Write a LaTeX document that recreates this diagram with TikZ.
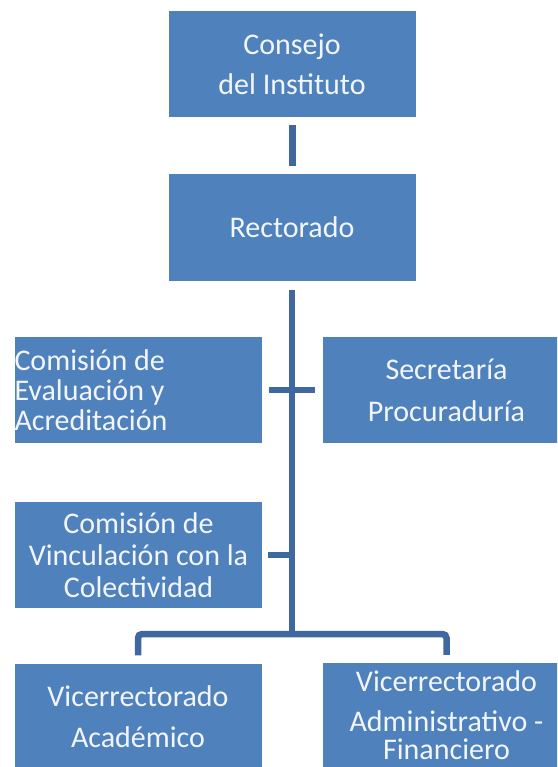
\documentclass[tikz,border=0pt]{standalone}
\usepackage{fontspec}
\setmainfont{Carlito}
\usepackage{tikz}
\usetikzlibrary{positioning}
\definecolor{boxc}{RGB}{79,129,189}
\definecolor{linec}{RGB}{64,104,160}
\definecolor{textc}{RGB}{242,246,251}

\begin{document}
\begin{tikzpicture}[x=1pt, y=-1pt,
  orgbox/.style={fill=boxc, text=textc, minimum width=247pt, minimum height=106pt,
    inner sep=0pt, align=center, font={\fontsize{30}{30}\selectfont}},
  link/.style={draw=linec, line width=6.5pt}]
  \useasboundingbox (0,0) rectangle (557,767);
  \clip (0,0) rectangle (557,767);
  % top levels
  \node[orgbox] (consejo) at (292,64) {Consejo\\[10pt]del Instituto};
  \node[orgbox] (rector) at (292,227.5) {Rectorado};
  % commissions and secretaria
  \node[orgbox, align=flush left, text width=247pt] (evalua) at (138,390)
    {Comisión de\\Evaluación y\\Acreditación};
  \node[orgbox] (secre) at (446.5,390) {Secretaría\\[12pt]Procuraduría};
  \node[orgbox] (vincul) at (138.5,555) {Comisión de\\[2pt]Vinculación con la\\[2pt]Colectividad};
  % vice rectorates
  \node[orgbox] (acad) at (138,716.5) {Vicerrectorado\\[11pt]Académico};
  \node[orgbox, minimum height=104pt] (admin) at (446.5,715)
    {Vicerrectorado\\[10pt]Administrativo -\\[-2pt]Financiero};
  \coordinate (hub) at (292,634);
  % lines
  \draw[link, line width=7pt] ([yshift=-8pt]consejo.south) -- ([yshift=8pt]rector.north);
  \draw[link] ([yshift=-9pt]rector.south) -- (hub);
  \draw[link] ([xshift=7pt]evalua.east) -- ([xshift=-8pt]secre.west);
  \draw[link] ([xshift=6pt]vincul.east) -- (vincul.east -| hub);
  \draw[link, rounded corners=4pt] ([yshift=8pt]acad.north) |- (hub) -| ([yshift=8pt]admin.north);
\end{tikzpicture}
\end{document}
